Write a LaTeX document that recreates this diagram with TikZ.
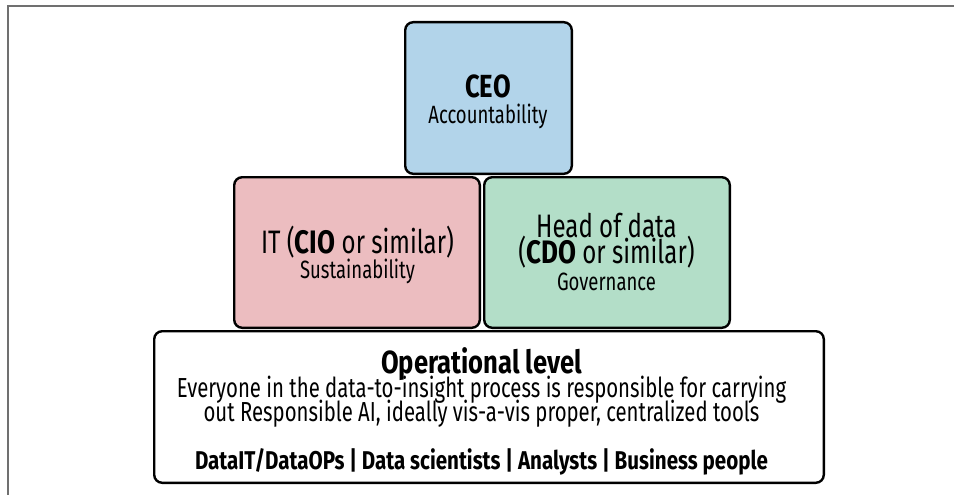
\documentclass[tikz,border=0pt]{standalone}
\usepackage{fontspec}
\setmainfont{Fira Sans}[UprightFeatures={FakeStretch=0.74},BoldFeatures={FakeStretch=0.8}]
\usepackage{tikz}
\usetikzlibrary{positioning}
\definecolor{ceoblue}{HTML}{B2D4EA}
\definecolor{itpink}{HTML}{ECBDC0}
\definecolor{cdogreen}{HTML}{B3DEC8}
\definecolor{framegray}{HTML}{707070}
\newcommand{\tierfont}[2]{\fontsize{#1}{#2}\selectfont\lineskiplimit=-50pt}
\newcommand{\rolename}[1]{{\bfseries\fontsize{32}{26}\selectfont #1}}
\newcommand{\duty}[1]{{\fontsize{25}{26}\selectfont #1}}
\tikzset{
  tier/.style={rectangle,draw=black,line width=2.4pt,rounded corners=8pt,inner sep=0pt},
  tiertop/.style={tier,fill=ceoblue,minimum width=166.6pt,minimum height=151.6pt},
  tiermid/.style={tier,minimum width=245.6pt,minimum height=150.6pt},
  tierbase/.style={tier,fill=white,minimum width=669.6pt,minimum height=151.6pt},
  tiertext/.style={align=center,inner sep=0pt},
}

\begin{document}
\begin{tikzpicture}[x=1pt,y=1pt]
	\useasboundingbox (0,0) rectangle (954,-495);
	\draw[framegray,line width=1.5pt] (8,-495) -- (8,-6) -- (954,-6);
	% the four tiers
	\node[tiertop] (ceo) at (488.5,-98) {};
	\node[tiermid,fill=itpink,below left=1pt and 7.5pt of ceo.south] (cio) {};
	\node[tiermid,fill=cdogreen,right=2pt of cio] (cdo) {};
	\node[tierbase] (ops) at (489,-407) {};
	% their texts
	\node[tiertext,font=\tierfont{25}{26}] (ceotext) at ([shift={(-0.5,-3.75)}]ceo.center)
		{\rolename{CEO}\\Accountability};
	\node[tiertext,font=\tierfont{32.5}{25}] (ciotext) at ([shift={(0.5,-2.3)}]cio.center)
		{IT (\textbf{CIO} or similar)\\\duty{Sustainability}};
	\node[tiertext,font=\tierfont{32.5}{26}] (cdotext) at ([shift={(-0.5,1)}]cdo.center)
		{Head of data\\(\textbf{CDO} or similar)\\[1pt]\duty{Governance}};
	\node[tiertext,font=\tierfont{27.5}{24}] (opstext) at ([shift={(-7.5,-4.3)}]ops.center)
		{{\bfseries\fontsize{32}{24}\selectfont Operational level}\\
		Everyone in the data-to-insight process is responsible for carrying\\
		out Responsible AI, ideally vis-a-vis proper, centralized tools\\[24pt]
		{\bfseries\fontsize{25.7}{24}\selectfont DataIT/DataOPs | Data scientists | Analysts | Business people}};
\end{tikzpicture}
\end{document}
